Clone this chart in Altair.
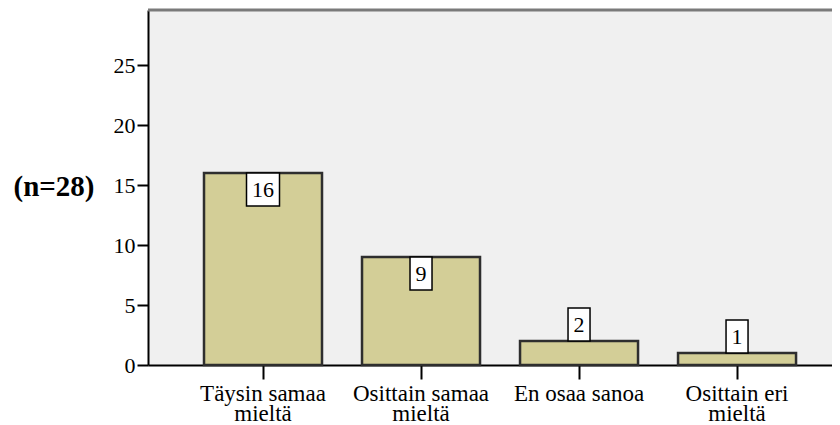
import altair as alt
import pandas as pd

categories = ["Täysin samaa mieltä", "Osittain samaa mieltä", "En osaa sanoa", "Osittain eri mieltä"]
counts = [16, 9, 2, 1]
y_ticks = [0, 5, 10, 15, 20, 25]
n_label = "(n=28)"

df = pd.DataFrame({"cat": categories, "count": counts})

FONT = "Liberation Serif"
BOX_H = 33
W, H = 684, 355

label_expr = ("indexof(datum.label, ' mieltä') > 0 ? "
              "[slice(datum.label, 0, indexof(datum.label, ' mieltä')), 'mieltä'] : datum.label")

x = alt.X("cat:N", sort=categories, title=None,
          scale=alt.Scale(paddingInner=0.2532, paddingOuter=0.291, align=0.609),
          axis=alt.Axis(labelAngle=0, labelFont=FONT, labelFontSize=23, labelColor="black",
                        labelLineHeight=20, labelPadding=3, tickSize=14, tickWidth=2,
                        tickColor="black", domainColor="black", domainWidth=2,
                        labelExpr=label_expr))

y = alt.Y("count:Q", scale=alt.Scale(domain=[0, 29.6], nice=False, zero=True),
          axis=alt.Axis(values=y_ticks, title=n_label, titleAngle=0, titleFont=FONT,
                        titleFontSize=29, titleFontWeight="bold", titleColor="black",
                        titleAlign="left", titleBaseline="middle", titleX=-135, titleY=176,
                        labelFont=FONT, labelFontSize=22, labelColor="black", labelPadding=2,
                        tickSize=11, tickWidth=2, tickColor="black", domainColor="black",
                        domainWidth=2, grid=False))

base = alt.Chart(df)

bars = base.mark_bar(fill="#d3ce97", stroke="#2e2e2e", strokeWidth=2.5).encode(x=x, y=y)

boxed = base.transform_calculate(w="11 + 11 * length(toString(datum.count))")

inside_box = boxed.transform_filter("datum.count >= 5").mark_bar(
    fill="white", stroke="black", strokeWidth=1.5, y2Offset=BOX_H
).encode(x=x, y=y, y2=alt.Y2("count:Q"), size=alt.Size("w:Q", scale=None, legend=None))

above_box = boxed.transform_filter("datum.count < 5").mark_bar(
    fill="white", stroke="black", strokeWidth=1.5, yOffset=-BOX_H
).encode(x=x, y=y, y2=alt.Y2("count:Q"), size=alt.Size("w:Q", scale=None, legend=None))

inside_txt = base.transform_filter("datum.count >= 5").mark_text(
    font=FONT, fontSize=22, color="black", baseline="middle", dy=BOX_H / 2
).encode(x=x, y=y, text="count:Q")

above_txt = base.transform_filter("datum.count < 5").mark_text(
    font=FONT, fontSize=22, color="black", baseline="middle", dy=-BOX_H / 2
).encode(x=x, y=y, text="count:Q")

top_rule = alt.Chart(pd.DataFrame({"k": [0]})).mark_rule(color="#7a7a7a", strokeWidth=3).encode(
    y=alt.value(0), x=alt.value(0), x2=alt.value(W)
)

chart = alt.layer(bars, inside_box, above_box, inside_txt, above_txt, top_rule).properties(
    width=W, height=H, autosize="none",
    padding={"left": 140, "top": 2, "right": 0, "bottom": 60},
    background="white",
).configure(font=FONT).configure_axis(labelFont=FONT, titleFont=FONT).configure_view(
    fill="#f0f0f0", strokeWidth=0
)

chart.save("out.html", embed_options={"renderer": "svg", "actions": False})
